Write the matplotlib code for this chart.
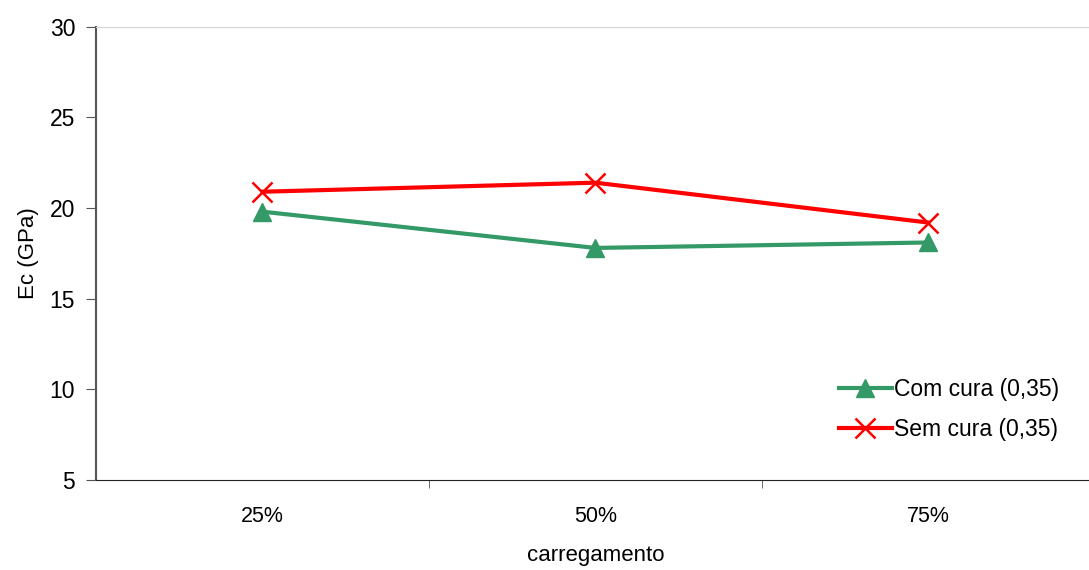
import matplotlib
matplotlib.use('Agg')
import matplotlib.pyplot as plt

plt.rcParams['font.family'] = ['Liberation Sans', 'DejaVu Sans']

# data
categories = ['25%', '50%', '75%']
com_cura = [19.8, 17.8, 18.1]
sem_cura = [20.9, 21.4, 19.2]

fig = plt.figure(figsize=(10.89, 5.70), dpi=100)
ax = fig.add_axes([0.0882, 0.158, 0.917, 0.795])

x = range(len(categories))
ax.plot(x, com_cura, color='#339966', lw=3, marker='^', ms=13,
        label='Com cura (0,35)')
ax.plot(x, sem_cura, color='#ff0000', lw=3, marker='x', ms=14, mew=1.8,
        label='Sem cura (0,35)')

ax.set_xlim(-0.5, 2.5)
ax.set_ylim(5, 30)
ax.set_yticks([5, 10, 15, 20, 25, 30])
ax.set_xticks(list(x))
ax.set_xticklabels(categories)
ax.set_xticks([0.5, 1.5], minor=True)
ax.tick_params(axis='x', which='major', length=0, pad=19, labelsize=15.5)
ax.tick_params(axis='x', which='minor', length=6, color='#555555')
ax.tick_params(axis='y', length=7, color='#555555', labelsize=16.5, pad=8)

ax.spines['right'].set_visible(False)
ax.spines['top'].set_color('#d4d4d4')
ax.spines['left'].set_color('#555555')
ax.spines['left'].set_linewidth(1.5)
ax.spines['bottom'].set_color('#222222')

ax.set_xlabel('carregamento', fontsize=16, labelpad=13)
ax.set_ylabel('Ec (GPa)', fontsize=16, labelpad=8)

ax.legend(loc='lower right', bbox_to_anchor=(0.985, 0.04), frameon=False,
          fontsize=16.5, handlelength=2.3, handletextpad=0.1, labelspacing=0.75)

fig.savefig('out.png', dpi=100)
